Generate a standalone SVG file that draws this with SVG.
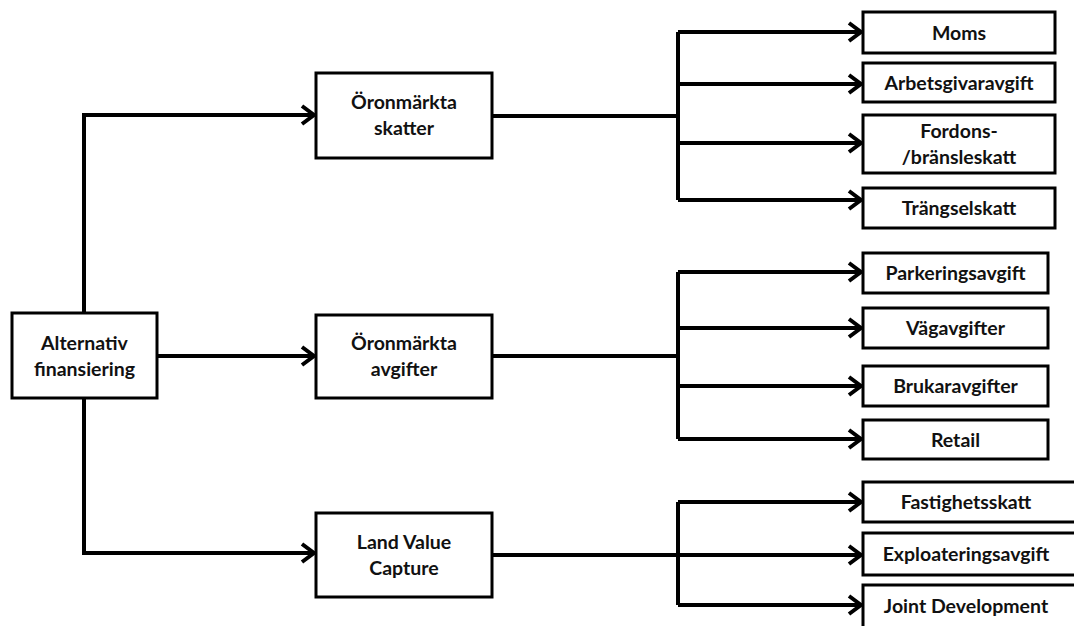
<svg xmlns="http://www.w3.org/2000/svg" width="1074" height="626" viewBox="0 0 1074 626">
<style>
.box{fill:#fff;stroke:#000;stroke-width:3}
.t{font-family:Lato,"Liberation Sans",sans-serif;font-weight:bold;font-size:19.5px;fill:#111;text-anchor:middle}
.c{fill:none;stroke:#000;stroke-width:4;stroke-linejoin:miter}
</style>
<defs>
<marker id="ah" markerUnits="userSpaceOnUse" viewBox="-14 -11 16 22" refX="0" refY="0" markerWidth="16" markerHeight="22" orient="auto">
<path d="M-12,-9 L0,0 L-12,9" fill="none" stroke="#000" stroke-width="4"/>
</marker>
</defs>
<rect width="1074" height="626" fill="#fff"/>
<g id="connectors">
<path class="c" d="M84,313 V115 H314" marker-end="url(#ah)"/>
<path class="c" d="M157,356 H314" marker-end="url(#ah)"/>
<path class="c" d="M84,398 V553 H314" marker-end="url(#ah)"/>
<path class="c" d="M492,116 H678"/>
<path class="c" d="M678,32 V200"/>
<path class="c" d="M678,32 H861" marker-end="url(#ah)"/>
<path class="c" d="M678,84 H861" marker-end="url(#ah)"/>
<path class="c" d="M678,143 H861" marker-end="url(#ah)"/>
<path class="c" d="M678,200 H861" marker-end="url(#ah)"/>
<path class="c" d="M492,356 H678"/>
<path class="c" d="M678,272 V439"/>
<path class="c" d="M678,272 H861" marker-end="url(#ah)"/>
<path class="c" d="M678,328 H861" marker-end="url(#ah)"/>
<path class="c" d="M678,386 H861" marker-end="url(#ah)"/>
<path class="c" d="M678,439 H861" marker-end="url(#ah)"/>
<path class="c" d="M492,555 H861" marker-end="url(#ah)"/>
<path class="c" d="M678,502 V605"/>
<path class="c" d="M678,502 H861" marker-end="url(#ah)"/>
<path class="c" d="M678,605 H861" marker-end="url(#ah)"/>
</g>
<g id="alternativ"><rect class="box" x="12" y="313" width="145" height="85"/><text class="t" x="84.5" y="349.5">Alternativ</text><text class="t" x="84.5" y="375.5">finansiering</text></g>
<g id="skatter"><rect class="box" x="316" y="73" width="176" height="85"/><text class="t" x="404" y="109">Öronmärkta</text><text class="t" x="404" y="135">skatter</text></g>
<g id="avgifter"><rect class="box" x="316" y="315" width="176" height="83"/><text class="t" x="404" y="350">Öronmärkta</text><text class="t" x="404" y="376">avgifter</text></g>
<g id="lvc"><rect class="box" x="316" y="513" width="176" height="84"/><text class="t" x="404" y="549">Land Value</text><text class="t" x="404" y="575">Capture</text></g>
<g id="moms"><rect class="box" x="863" y="12" width="192" height="41"/><text class="t" x="959" y="39.5">Moms</text></g>
<g id="arbetsgivaravgift"><rect class="box" x="863" y="63" width="192" height="39"/><text class="t" x="959" y="89.5">Arbetsgivaravgift</text></g>
<g id="fordons"><rect class="box" x="863" y="115" width="192" height="58"/><text class="t" x="959" y="138">Fordons-</text><text class="t" x="959" y="164">/bränsleskatt</text></g>
<g id="trangselskatt"><rect class="box" x="863" y="188" width="192" height="40"/><text class="t" x="959" y="215">Trängselskatt</text></g>
<g id="parkeringsavgift"><rect class="box" x="863" y="253" width="185" height="40"/><text class="t" x="955.5" y="280">Parkeringsavgift</text></g>
<g id="vagavgifter"><rect class="box" x="863" y="308" width="185" height="40"/><text class="t" x="955.5" y="335">Vägavgifter</text></g>
<g id="brukaravgifter"><rect class="box" x="863" y="366" width="185" height="40"/><text class="t" x="955.5" y="393">Brukaravgifter</text></g>
<g id="retail"><rect class="box" x="863" y="420" width="185" height="39"/><text class="t" x="955.5" y="446.5">Retail</text></g>
<g id="fastighetsskatt"><rect class="box" x="863" y="482" width="220" height="40"/><text class="t" x="966" y="509">Fastighetsskatt</text></g>
<g id="exploateringsavgift"><rect class="box" x="863" y="533" width="220" height="42"/><text class="t" x="966" y="561">Exploateringsavgift</text></g>
<g id="joint"><rect class="box" x="863" y="585" width="220" height="60"/><text class="t" x="966" y="613">Joint Development</text></g>
</svg>
